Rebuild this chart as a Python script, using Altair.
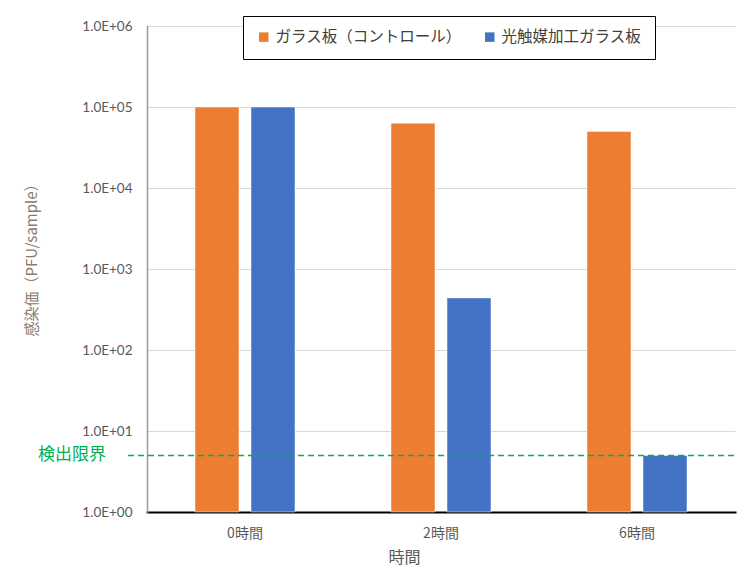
import altair as alt
import pandas as pd

times = ["0時間", "2時間", "6時間"]
series = ["ガラス板（コントロール）", "光触媒加工ガラス板"]
control_vals = [1.0e5, 6.3e4, 5.0e4]
photocat_vals = [1.0e5, 440, 5]
detection_limit = 5
y_ticks = [1, 10, 100, 1000, 10000, 100000, 1000000]
colors = ["#ED7D31", "#4472C4"]

rows = []
for t, v in zip(times, control_vals):
    rows.append({"time": t, "series": series[0], "value": v})
for t, v in zip(times, photocat_vals):
    rows.append({"time": t, "series": series[1], "value": v})
df = pd.DataFrame(rows)

W, H = 588, 486
JP = "Noto Sans CJK JP"
NUM = "Lato, Noto Sans CJK JP"

bars = alt.Chart(df).mark_bar(stroke="white", strokeWidth=1, strokeOpacity=0.5).encode(
    x=alt.X("time:N", sort=times,
            scale=alt.Scale(paddingInner=0, paddingOuter=0),
            axis=alt.Axis(title="時間", labelAngle=0, labelFont=JP, labelFontSize=14,
                          labelColor="#595959", labelPadding=14, ticks=False,
                          domainColor="black", domainWidth=2,
                          titleFont=JP, titleFontSize=16, titleFontWeight="normal",
                          titleColor="#595959", titleX=257, titleY=45,
                          titleBaseline="middle")),
    xOffset=alt.XOffset("series:N", sort=series,
                        scale=alt.Scale(paddingInner=0.214, paddingOuter=0.857)),
    y=alt.Y("value:Q",
            scale=alt.Scale(type="log", domain=[1, 1000000], nice=False),
            axis=alt.Axis(title="感染価（PFU/sample）", values=y_ticks,
                          labelExpr="'1.0E+0' + round(log(datum.value)/LN10)",
                          labelFont=NUM, labelFontSize=13.5, labelColor="#595959",
                          labelPadding=15, ticks=False,
                          domainColor="#9a9a9a", domainWidth=1.5,
                          grid=True, gridColor="#d9d9d9", gridWidth=1,
                          titleFont=JP, titleFontSize=15, titleFontWeight="normal",
                          titleColor="#8c7a6e", titleX=-116, titleY=230,
                          titleBaseline="middle")),
    y2=alt.datum(1),
    color=alt.Color("series:N", sort=series,
                    scale=alt.Scale(domain=series, range=colors),
                    legend=alt.Legend(title=None, orient="none", direction="horizontal",
                                      legendX=96, legendY=-10,
                                      symbolType="square", symbolSize=90,
                                      symbolStrokeWidth=0,
                                      labelFont=JP, labelFontSize=15.5,
                                      labelColor="#404040", labelLimit=400,
                                      columnPadding=20, padding=13,
                                      strokeColor="black", fillColor="white")),
)

limit_df = pd.DataFrame({"limit": [detection_limit], "label": ["検出限界"]})

rule = alt.Chart(limit_df).mark_rule(color="#00B050", strokeWidth=1.5,
                                     strokeDash=[6, 4]).encode(
    y=alt.Y("limit:Q"),
    x=alt.value(-19),
    x2=alt.value(W),
)

label = alt.Chart(limit_df).mark_text(color="#00B050", font=JP, fontSize=17,
                                      align="center", baseline="middle").encode(
    y=alt.Y("limit:Q"),
    x=alt.value(-75),
    text="label:N",
)

chart = alt.layer(bars, rule, label).properties(
    width=W, height=H,
    autosize=alt.AutoSizeParams(type="none"),
    padding={"left": 139, "top": 18, "right": 12, "bottom": 54},
).configure_view(stroke=None).configure_axis(
    domainCap="square"
)

chart.save("out.html", embed_options={"renderer": "svg", "actions": False})
